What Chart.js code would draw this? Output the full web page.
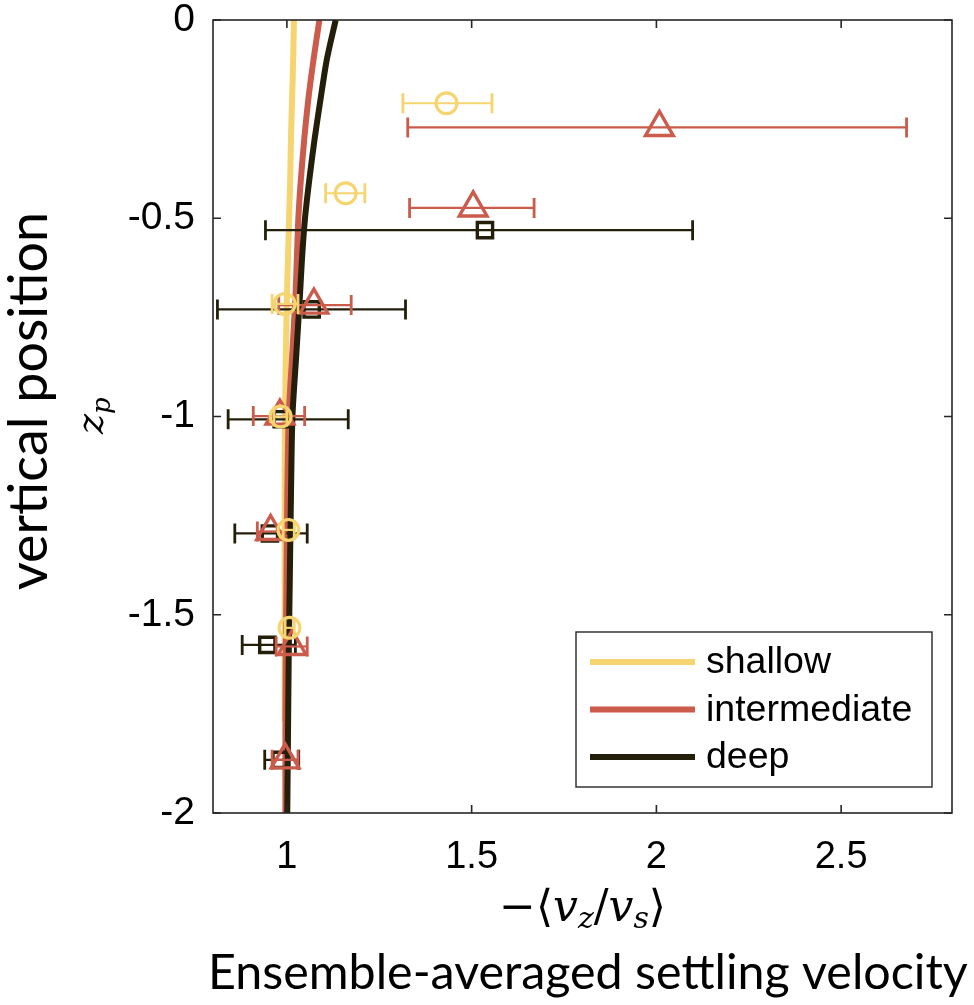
<!DOCTYPE html>
<html><head><meta charset="utf-8">
<script src="https://cdn.jsdelivr.net/npm/chart.js@4.4.0/dist/chart.umd.min.js"></script>
<style>html,body{margin:0;padding:0;background:#fff;}#wrap{width:974px;height:1005px;}</style>
</head><body><div id="wrap"><canvas id="c" width="974" height="1005"></canvas></div>
<script>
// ---------- data ----------
const seriesNames = ['shallow', 'intermediate', 'deep'];
const seriesColors = ['#F6D46F', '#CB5B4B', '#231F0B'];

// model curves: vertical position z and velocity x
const curveZ = [0, -0.1, -0.2, -0.3, -0.4, -0.5, -0.6, -0.7, -0.85, -1.0, -1.2, -1.4, -1.6, -1.8, -2.0];
const curveShallowZ = [0, -0.1, -0.2, -0.3, -0.4, -0.5, -0.6, -0.7, -0.85, -1.0, -1.2, -1.4, -1.6, -1.77];
const curveShallow = [1.019, 1.017, 1.014, 1.011, 1.009, 1.006, 1.003, 1.000, 0.997, 0.995, 0.994, 0.994, 0.994, 0.994];
const curveIntermediate = [1.088, 1.072, 1.058, 1.047, 1.038, 1.031, 1.027, 1.023, 1.014, 1.005, 1.001, 0.999, 0.997, 0.996, 0.996];
const curveDeep = [1.132, 1.108, 1.091, 1.075, 1.061, 1.049, 1.041, 1.035, 1.025, 1.015, 1.011, 1.008, 1.005, 1.003, 1.001];

// measured points (z, mean, lower, upper)
const shallowZ   = [-0.210, -0.437, -0.716, -1.000, -1.286, -1.533];
const shallowV   = [1.432, 1.159, 0.994, 0.983, 1.004, 1.007];
const shallowLo  = [1.314, 1.105, 0.960, 0.965, 0.990, 0.995];
const shallowHi  = [1.555, 1.211, 1.030, 1.000, 1.020, 1.020];

const interZ  = [-0.271, -0.474, -0.719, -0.999, -1.290, -1.580, -1.866];
const interV  = [2.008, 1.504, 1.073, 0.981, 0.956, 1.014, 0.995];
const interLo = [1.327, 1.332, 0.978, 0.909, 0.920, 0.971, 0.960];
const interHi = [2.677, 1.669, 1.174, 1.048, 0.995, 1.055, 1.030];

const deepZ  = [-0.530, -0.730, -1.007, -1.295, -1.576, -1.866];
const deepV  = [1.536, 1.067, 0.986, 0.954, 0.947, 0.983];
const deepLo = [0.942, 0.812, 0.841, 0.859, 0.879, 0.940];
const deepHi = [2.098, 1.321, 1.166, 1.055, 1.023, 1.032];

const xTicks = [1, 1.5, 2, 2.5];
const xTickLabels = ['1', '1.5', '2', '2.5'];
const yTicks = [0, -0.5, -1, -1.5, -2];
const yTickLabels = ['0', '-0.5', '-1', '-1.5', '-2'];

// ---------- build ----------
const pts = (xs, zs) => xs.map((v, i) => ({x: v, y: zs[i]}));
const errSets = [
  {z: shallowZ, lo: shallowLo, hi: shallowHi},
  {z: interZ, lo: interLo, hi: interHi},
  {z: deepZ, lo: deepLo, hi: deepHi}
];
const AX = '#262626';

const datasets = [
  {label: seriesNames[0], data: pts(curveShallow, curveShallowZ), showLine: true, borderColor: seriesColors[0], borderWidth: 6, pointRadius: 0, tension: 0.25, order: 12},
  {label: seriesNames[1], data: pts(curveIntermediate, curveZ), showLine: true, borderColor: seriesColors[1], borderWidth: 6, pointRadius: 0, tension: 0.25, order: 11},
  {label: seriesNames[2], data: pts(curveDeep, curveZ), showLine: true, borderColor: seriesColors[2], borderWidth: 6, pointRadius: 0, tension: 0.25, order: 10},
  {label: seriesNames[2] + ' data', data: pts(deepV, deepZ), showLine: false, pointStyle: 'rect', pointRadius: 10.8, borderColor: seriesColors[2], backgroundColor: 'rgba(0,0,0,0)', borderWidth: 3.4, order: 3, errIdx: 2},
  {label: seriesNames[1] + ' data', data: pts(interV, interZ), showLine: false, pointStyle: 'triangle', pointRadius: 16, borderColor: seriesColors[1], backgroundColor: 'rgba(0,0,0,0)', borderWidth: 3.4, order: 2, errIdx: 1},
  {label: seriesNames[0] + ' data', data: pts(shallowV, shallowZ), showLine: false, pointStyle: 'circle', pointRadius: 10.4, borderColor: seriesColors[0], backgroundColor: 'rgba(0,0,0,0)', borderWidth: 3.2, order: 1, errIdx: 0}
];

function fitFont(ctx, text, family, weight, targetW, base) {
  ctx.font = weight + ' ' + base + 'px ' + family;
  const w = ctx.measureText(text).width;
  return base * targetW / w;
}

const decor = {
  id: 'decor',
  beforeDatasetDraw(chart, args) {
    const ds = chart.data.datasets[args.index];
    if (ds.errIdx === undefined) return;
    const k = ds.errIdx, e = errSets[k];
    const xs = chart.scales.x, ys = chart.scales.y, ctx = chart.ctx;
    ctx.save();
    ctx.strokeStyle = seriesColors[k];
    for (let i = 0; i < e.z.length; i++) {
      const y = ys.getPixelForValue(e.z[i]);
      const x1 = xs.getPixelForValue(e.lo[i]), x2 = xs.getPixelForValue(e.hi[i]);
      ctx.lineWidth = 2.2;
      ctx.beginPath(); ctx.moveTo(x1, y); ctx.lineTo(x2, y); ctx.stroke();
      ctx.lineWidth = 2.8;
      ctx.beginPath();
      ctx.moveTo(x1, y - 10); ctx.lineTo(x1, y + 10);
      ctx.moveTo(x2, y - 10); ctx.lineTo(x2, y + 10);
      ctx.stroke();
    }
    ctx.restore();
  },
  afterDraw(chart) {
    const ctx = chart.ctx, a = chart.chartArea;
    const xs = chart.scales.x, ys = chart.scales.y;
    ctx.save();
    // box
    ctx.strokeStyle = AX; ctx.lineWidth = 1.6;
    ctx.strokeRect(a.left, a.top, a.right - a.left, a.bottom - a.top);
    // inward ticks
    ctx.beginPath();
    xTicks.forEach(v => {
      const x = xs.getPixelForValue(v);
      ctx.moveTo(x, a.bottom); ctx.lineTo(x, a.bottom - 8);
      ctx.moveTo(x, a.top); ctx.lineTo(x, a.top + 8);
    });
    yTicks.forEach(v => {
      const y = ys.getPixelForValue(v);
      ctx.moveTo(a.left, y); ctx.lineTo(a.left + 8, y);
      ctx.moveTo(a.right, y); ctx.lineTo(a.right - 8, y);
    });
    ctx.stroke();

    // legend
    const lb = {x: 576, y: 632, w: 356, h: 155};
    ctx.fillStyle = '#fff';
    ctx.fillRect(lb.x, lb.y, lb.w, lb.h);
    ctx.strokeStyle = AX; ctx.lineWidth = 1.4;
    ctx.strokeRect(lb.x, lb.y, lb.w, lb.h);
    const rows = [662, 709.5, 757];
    ctx.font = '37.5px "Liberation Sans", Arial, sans-serif';
    ctx.textBaseline = 'middle'; ctx.textAlign = 'left';
    for (let k = 0; k < 3; k++) {
      ctx.strokeStyle = seriesColors[k]; ctx.lineWidth = 6;
      ctx.beginPath(); ctx.moveTo(590, rows[k]); ctx.lineTo(695, rows[k]); ctx.stroke();
      ctx.fillStyle = '#000';
      ctx.fillText(seriesNames[k], 706, rows[k] + 1);
    }

    // x math label  −⟨v_z / v_s⟩
    ctx.fillStyle = '#000';
    ctx.textBaseline = 'alphabetic';
    const base = 921, fs = 44, sub = 30;
    const parts = [
      {t: '\u2212', f: fs + 'px "DejaVu Serif"', dy: 0},
      {t: '\u27E8', f: fs + 'px "DejaVu Serif", "DejaVu Sans"', dy: 0},
      {t: 'v', f: 'italic ' + fs + 'px "DejaVu Serif"', dy: 0},
      {t: 'z', f: 'italic ' + sub + 'px "DejaVu Serif"', dy: 7},
      {t: '/', f: fs + 'px "DejaVu Serif"', dy: 0},
      {t: 'v', f: 'italic ' + fs + 'px "DejaVu Serif"', dy: 0},
      {t: 's', f: 'italic ' + sub + 'px "DejaVu Serif"', dy: 7},
      {t: '\u27E9', f: fs + 'px "DejaVu Serif", "DejaVu Sans"', dy: 0}
    ];
    let tw = 0;
    parts.forEach(p => { ctx.font = p.f; p.w = ctx.measureText(p.t).width; tw += p.w; });
    let cx = (a.left + a.right) / 2 - tw / 2;
    parts.forEach(p => { ctx.font = p.f; ctx.fillText(p.t, cx, base + p.dy); cx += p.w; });

    // big x title
    const bigT = 'Ensemble-averaged settling velocity';
    const bf = fitFont(ctx, bigT, 'Lato', 'normal', 760, 48);
    ctx.font = bf + 'px Lato';
    ctx.textAlign = 'left';
    ctx.fillText(bigT, 208, 989);

    // y titles (rotated)
    const yT = 'vertical position';
    const yf = fitFont(ctx, yT, 'Lato', 'normal', 378, 48);
    ctx.save();
    ctx.translate(47, 401);
    ctx.rotate(-Math.PI / 2);
    ctx.font = yf + 'px Lato';
    ctx.textAlign = 'center';
    ctx.fillText(yT, 0, 0);
    ctx.restore();

    ctx.save();
    ctx.translate(103, 418);
    ctx.rotate(-Math.PI / 2);
    ctx.textAlign = 'left';
    ctx.font = 'italic 38px "DejaVu Serif"';
    const zw = ctx.measureText('z').width;
    ctx.fillText('z', -zw / 2 - 6, 0);
    ctx.font = 'italic 26px "DejaVu Serif"';
    ctx.fillText('p', zw / 2 - 6, 7);
    ctx.restore();

    ctx.restore();
  }
};

new Chart(document.getElementById('c'), {
  type: 'scatter',
  data: {datasets},
  options: {
    responsive: false,
    animation: false,
    devicePixelRatio: 1,
    events: [],
    layout: {padding: {left: 0, top: 20, right: 22, bottom: 0}},
    plugins: {legend: {display: false}, tooltip: {enabled: false}},
    scales: {
      x: {
        type: 'linear', min: 0.8, max: 2.8,
        afterBuildTicks: s => { s.ticks = xTicks.map(v => ({value: v})); },
        afterFit: s => { s.height = 192; s.paddingLeft = 0; s.paddingRight = 0; },
        grid: {display: false, drawTicks: false},
        border: {display: false},
        ticks: {padding: 22, color: '#000', font: {family: '"Liberation Sans", Arial', size: 38},
          callback: (v) => { const i = xTicks.indexOf(v); return i >= 0 ? xTickLabels[i] : ''; }, maxRotation: 0, autoSkip: false}
      },
      y: {
        type: 'linear', min: -2, max: 0,
        afterBuildTicks: s => { s.ticks = yTicks.map(v => ({value: v})); },
        afterFit: s => { s.width = 213; s.paddingTop = 0; s.paddingBottom = 0; },
        grid: {display: false, drawTicks: false},
        border: {display: false},
        ticks: {padding: 18, color: '#000', font: {family: '"Liberation Sans", Arial', size: 39},
          callback: (v) => { const i = yTicks.indexOf(v); return i >= 0 ? yTickLabels[i] : ''; }, autoSkip: false}
      }
    }
  },
  plugins: [decor]
});
</script></body></html>
